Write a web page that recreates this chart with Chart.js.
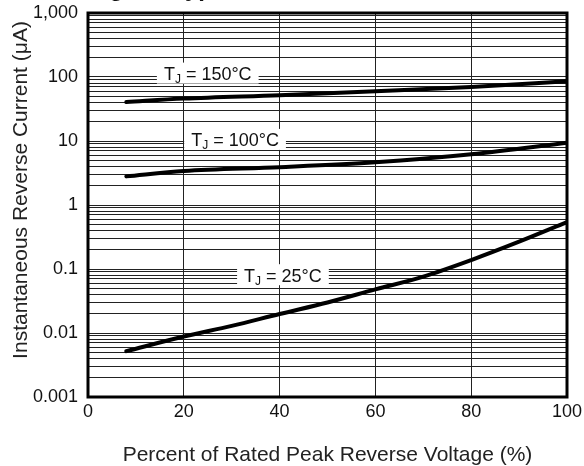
<!DOCTYPE html>
<html>
<head>
<meta charset="utf-8">
<script src="https://cdn.jsdelivr.net/npm/chart.js@4"></script>
<style>
  html, body { margin: 0; padding: 0; background: #fff; }
  #wrap { width: 584px; height: 466px; }
</style>
</head>
<body>
<div id="wrap"><canvas id="chart" width="584" height="466"></canvas></div>
<script>
// percent of rated peak reverse voltage
const pctCoarse = [8, 20, 40, 60, 80, 100];
const pctFine = [8, 20, 30, 40, 50, 60, 70, 80, 90, 100];

// reverse current in uA
const tj150 = [40.6, 46, 52, 60, 70, 86];
const tj100 = [2.8, 3.4, 3.9, 4.65, 6.2, 9.4];
const tj25 = [0.0052, 0.0088, 0.0129, 0.0198, 0.030, 0.048, 0.076, 0.138, 0.267, 0.54];

const xTicks = [0, 20, 40, 60, 80, 100];
const decades = [0.001, 0.01, 0.1, 1, 10, 100, 1000];

// curve labels
const labelText = ['150°C', '100°C', '25°C'];
const labelX = [25, 30.7, 40.7];
const labelY = [113, 10.4, 0.08];

const xTitle = 'Percent of Rated Peak Reverse Voltage (%)';
const yTitle = 'Instantaneous Reverse Current (μA)';
const caption = 'Fig. 3 - Typical Reverse Characteristics';

const FONT = "'Liberation Sans', Arial, sans-serif";

function pairs(xs, ys) {
    return xs.map((x, i) => ({ x: x, y: ys[i] }));
}

function curve(data) {
    return {
        data: data,
        borderColor: '#000',
        borderWidth: 4,
        borderCapStyle: 'round',
        pointRadius: 0,
        cubicInterpolationMode: 'monotone',
        fill: false
    };
}

const frameAndLabels = {
    id: 'frameAndLabels',
    afterDatasetsDraw(chart) {
        const ctx = chart.ctx;
        const xs = chart.scales.x, ys = chart.scales.y;
        ctx.save();
        labelText.forEach((txt, i) => {
            const cx = xs.getPixelForValue(labelX[i]);
            const cy = ys.getPixelForValue(labelY[i]);
            ctx.font = '18px ' + FONT;
            const wT = ctx.measureText('T').width;
            const rest = ' = ' + txt;
            const wR = ctx.measureText(rest).width;
            ctx.font = '12px ' + FONT;
            const wJ = ctx.measureText('J').width;
            const w = wT + wJ + wR;
            ctx.fillStyle = '#fff';
            ctx.fillRect(cx - w / 2 - 7, cy - 11, w + 14, 21);
            ctx.fillStyle = '#111';
            ctx.textBaseline = 'alphabetic';
            ctx.textAlign = 'left';
            const base = cy + 6.5;
            let x0 = cx - w / 2;
            ctx.font = '18px ' + FONT;
            ctx.fillText('T', x0, base);
            x0 += wT;
            ctx.font = '12px ' + FONT;
            ctx.fillText('J', x0, base + 3);
            x0 += wJ;
            ctx.font = '18px ' + FONT;
            ctx.fillText(rest, x0, base);
        });
        // plot frame
        const a = chart.chartArea;
        ctx.strokeStyle = '#000';
        ctx.lineWidth = 3;
        ctx.strokeRect(a.left, a.top, a.right - a.left, a.bottom - a.top);

        // axis titles
        ctx.fillStyle = '#222';
        ctx.font = '21px ' + FONT;
        ctx.textAlign = 'center';
        ctx.textBaseline = 'middle';
        ctx.fillText(xTitle, (a.left + a.right) / 2, 455);
        ctx.translate(21, 190);
        ctx.rotate(-Math.PI / 2);
        ctx.fillText(yTitle, 0, 0);
        ctx.setTransform(1, 0, 0, 1, 0, 0);

        // figure caption, cut off at the top edge
        ctx.fillStyle = '#111';
        ctx.font = 'bold 24px ' + FONT;
        ctx.textAlign = 'left';
        ctx.textBaseline = 'alphabetic';
        ctx.fillText(caption, 88, -4);
        ctx.restore();
    }
};

new Chart(document.getElementById('chart').getContext('2d'), {
    type: 'line',
    data: {
        datasets: [
            curve(pairs(pctCoarse, tj150)),
            curve(pairs(pctCoarse, tj100)),
            curve(pairs(pctFine, tj25))
        ]
    },
    options: {
        responsive: false,
        animation: false,
        layout: { padding: { top: 13, right: 17, left: 0, bottom: 0 } },
        plugins: { legend: { display: false }, tooltip: { enabled: false } },
        scales: {
            x: {
                type: 'linear',
                min: 0,
                max: 100,
                afterBuildTicks: scale => { scale.ticks = xTicks.map(v => ({ value: v })); },
                afterFit: scale => {
                    scale.height = 69;
                    scale.paddingLeft = 0;
                    scale.paddingRight = 0;
                },
                grid: { color: '#222', lineWidth: 1, drawTicks: false },
                border: { display: false },
                ticks: {
                    color: '#111',
                    padding: 4,
                    maxRotation: 0,
                    font: { family: FONT, size: 18 }
                }
            },
            y: {
                type: 'logarithmic',
                min: 0.001,
                max: 1000,
                afterBuildTicks: scale => {
                    const t = [];
                    decades.forEach((d, i) => {
                        if (i === decades.length - 1) { t.push({ value: d }); return; }
                        for (let k = 1; k <= 9; k++) t.push({ value: +(d * k).toPrecision(3) });
                    });
                    scale.ticks = t;
                },
                afterFit: scale => {
                    scale.width = 88;
                    scale.paddingTop = 0;
                    scale.paddingBottom = 0;
                },
                grid: { color: '#222', lineWidth: 1, drawTicks: false },
                border: { display: false },
                ticks: {
                    autoSkip: false,
                    color: '#111',
                    padding: 10,
                    font: { family: FONT, size: 18 },
                    callback: v => decades.includes(v) ? (v >= 1000 ? v.toLocaleString('en-US') : String(v)) : ''
                }
            }
        }
    },
    plugins: [frameAndLabels]
});
</script>
</body>
</html>
